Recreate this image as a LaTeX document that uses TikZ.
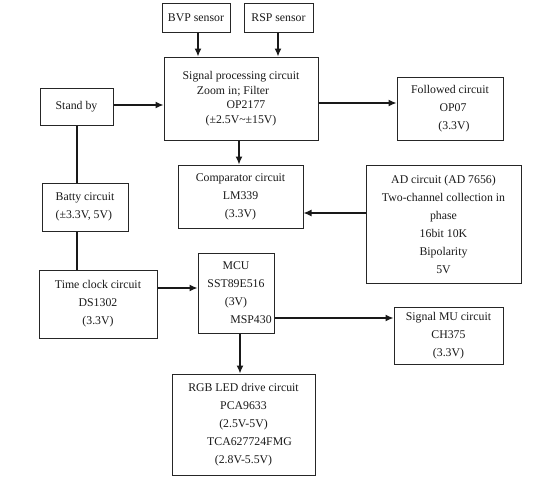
\documentclass[tikz,border=0pt]{standalone}
\usepackage{fontspec}
\setmainfont{Liberation Serif}
\usetikzlibrary{arrows.meta}
\newcommand{\padR}[1]{\hbox to #1{}}
\begin{document}
\begin{tikzpicture}[x=1pt,y=-1pt,
  box/.style={draw=black!85, line width=1pt, rectangle, inner sep=0pt, align=center,
    text=black!90, font=\fontsize{11.8}{18}\selectfont},
  arr/.style={-{Latex[length=8pt,width=7pt]}, line width=1.3pt, draw=black!90},
  ln/.style={line width=1.3pt, draw=black!90}]
\useasboundingbox (0,0) rectangle (544,483);
\node[box, minimum width=68pt, minimum height=29pt] (bvp) at (196,17.5) {BVP sensor};
\node[box, minimum width=69pt, minimum height=29pt] (rsp) at (278.5,17.5) {RSP sensor};
\node[box, minimum width=154pt, minimum height=83pt, font=\fontsize{11.8}{14.5}\selectfont] (sig) at (241,98.5)
  {Signal processing circuit\\Zoom in; Filter\padR{16pt}\\\padR{10pt}OP2177\\(±2.5V\textasciitilde±15V)};
\node[box, minimum width=73pt, minimum height=37pt] (stand) at (76.5,106.5) {Stand by};
\node[box, minimum width=86pt, minimum height=48pt, align=left] (batty) at (85,207) {Batty circuit\\(±3.3V, 5V)};
\node[box, minimum width=106pt, minimum height=63pt] (follow) at (450,108.5) {Followed circuit\\\padR{6pt}OP07\\\padR{8pt}(3.3V)};
\node[box, minimum width=125pt, minimum height=63pt] (comp) at (240.5,196.5) {Comparator circuit\\LM339\\(3.3V)};
\node[box, minimum width=155pt, minimum height=118pt] (ad) at (443.5,224) {AD circuit (AD 7656)\\Two-channel collection in\\phase\\16bit 10K\\Bipolarity\\5V};
\node[box, minimum width=118pt, minimum height=68pt] (clock) at (98,304) {Time clock circuit\\DS1302\\(3.3V)};
\node[box, minimum width=76pt, minimum height=80pt] (mcu) at (236,293) {MCU\\SST89E516\\(3V)\\\padR{30pt}MSP430};
\node[box, minimum width=109pt, minimum height=57pt] (mu) at (448.5,335.5) {Signal MU circuit\\CH375\\(3.3V)};
\node[box, minimum width=143pt, minimum height=101pt] (rgb) at (243.5,424.5) {RGB LED drive circuit\\PCA9633\\(2.5V-5V)\\\padR{12pt}TCA627724FMG\\(2.8V-5.5V)};
% connectors
\draw[arr] (bvp.south -| 198,0) -- (sig.north -| 198,0);
\draw[arr] (rsp.south -| 278,0) -- (sig.north -| 278,0);
\draw[arr] (stand.east |- 0,105) -- (sig.west |- 0,105);
\draw[arr] (sig.east |- 0,103) -- (follow.west |- 0,103);
\draw[arr] (sig.south -| 239,0) -- (comp.north -| 239,0);
\draw[arr] (ad.west |- 0,213) -- (comp.east |- 0,213);
\draw[ln] (stand.south -| 77,0) -- (batty.north -| 77,0);
\draw[ln] (batty.south -| 77,0) -- (clock.north -| 77,0);
\draw[arr] (clock.east |- 0,288) -- (mcu.west |- 0,288);
\draw[arr] (mcu.east |- 0,318) -- (mu.west |- 0,318);
\draw[arr] (mcu.south -| 240,0) -- (rgb.north -| 240,0);
\end{tikzpicture}
\end{document}
